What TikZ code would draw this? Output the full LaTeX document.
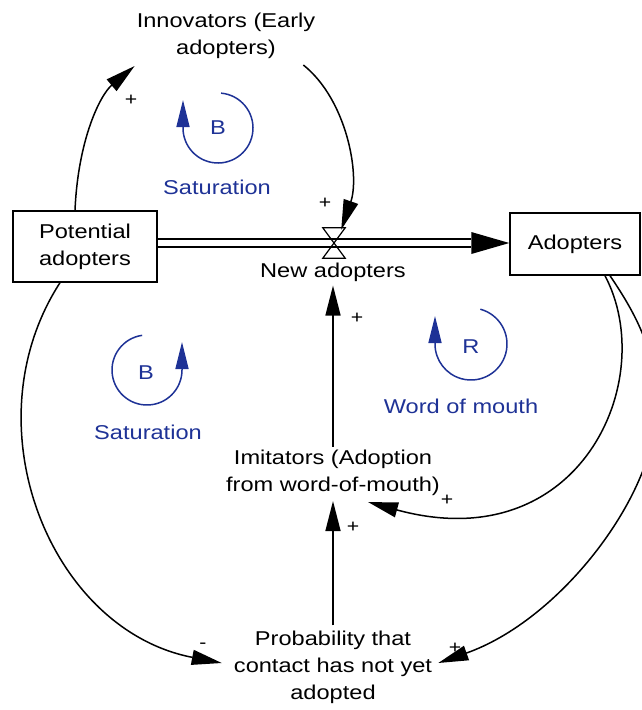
\documentclass[tikz,border=0pt]{standalone}
\usepackage{fontspec}
\setmainfont{Liberation Sans}[FakeStretch=1.18]
\usetikzlibrary{arrows.meta,calc}
\definecolor{loopblue}{RGB}{30,50,150}
\begin{document}
\begin{tikzpicture}[x=1pt,y=-1pt,
  every node/.style={font=\fontsize{20}{27}\selectfont, align=center, inner sep=0pt},
  stock/.style={draw, line width=1.4pt},
  link/.style={line width=1.5pt, -{Triangle[length=30pt,width=15pt]}},
  pipe/.style={line width=1.4pt},
  sign/.style={font=\fontsize{18}{18}\selectfont},
  loopline/.style={draw=loopblue, line width=1.5pt, -{Triangle[length=27pt,width=13pt]}},
  looptxt/.style={text=loopblue}
]
\useasboundingbox (0,0) rectangle (642,710);

% stocks, flow and auxiliaries
\node[stock, minimum width=144pt, minimum height=71pt] (pot) at (85,246.5) {Potential\\adopters};
\node[stock, minimum width=130pt, minimum height=62pt] (adopt) at (575,244) {Adopters};
\node[minimum width=22pt, minimum height=30pt] (valve) at (334,243) {};
\node (newad) at (333,272) {New adopters};
\node (innov) at (226,36) {Innovators (Early\\adopters)};
\node (imit) at (333,473) {Imitators (Adoption\\from word-of-mouth)};
\node (prob) at (333,667) {Probability that\\contact has not yet\\adopted};

% flow pipe with valve
\draw[pipe] ($(pot.east |- valve)+(0,-4)$) -- ($(adopt.west |- valve)+(-38,-4)$);
\draw[pipe] ($(pot.east |- valve)+(0,4)$) -- ($(adopt.west |- valve)+(-38,4)$);
\fill ($(adopt.west |- valve)+(-38,-11)$) -- (adopt.west |- valve) -- ($(adopt.west |- valve)+(-38,11)$) -- cycle;
\draw[line width=1.2pt, fill=white] (valve.north west) -- (valve.north east) -- (valve.south west) -- (valve.south east) -- cycle;
\draw[pipe] ($(valve.west)+(0,-4)$) -- ($(valve.east)+(0,-4)$);
\draw[pipe] ($(valve.west)+(0,4)$) -- ($(valve.east)+(0,4)$);

% causal links
\draw[link] ([shift={(-10,0)}]pot.north) .. controls (78,140) and (100,95) .. ([shift={(-2,7)}]innov.south west);
\draw[link] ([shift={(-12,6)}]innov.south east) .. controls (347,100) and (360,175) .. ([shift={(-4,2)}]valve.north east);
\draw[link] ([shift={(0,-3)}]imit.north) -- ([shift={(0,4)}]newad.south);
\draw[link] ([shift={(0,-5)}]prob.north) -- ([shift={(0,5)}]imit.south);
\draw[link] ([shift={(-25,0)}]pot.south) .. controls (-32,425) and (50,630) .. ([shift={(-12,-4)}]prob.west);
\draw[link] ([shift={(30,0)}]adopt.south) .. controls (660,380) and (580,560) .. ([shift={(35,6)}]imit.south);
\draw[link] ([shift={(35,0)}]adopt.south) .. controls (640,320) and (660,360) .. (655,420)
  .. controls (650,500) and (560,620) .. ([shift={(6,-4)}]prob.east);

% polarities
\node[sign] (s1) at (131,100) {+};
\node[sign] (s2) at (325,203) {+};
\node[sign] (s3) at (357,318) {+};
\node[sign] (s4) at (353,527) {+};
\node[sign] (s5) at (455,648) {+};
\node[sign] (s6) at (203,646) {-};
\node[sign] (s7) at (447,500) {+};

% loop markers
\draw[loopline] (218,128) ++(-85:35) arc[start angle=-85, end angle=180, radius=35] -- ++(0,-28);
\node[looptxt] (b1) at (218,128) {B};
\node[looptxt] (sat1) at (217,187) {Saturation};

\draw[loopline] (147,370) ++(262:35) arc[start angle=262, end angle=0, radius=35] -- ++(0,-28);
\node[looptxt] (b2) at (146,373) {B};
\node[looptxt] (sat2) at (148,432) {Saturation};

\draw[loopline] (471,344) ++(-75:36) arc[start angle=-75, end angle=180, radius=36] -- ++(0,-28);
\node[looptxt] (r1) at (471,347) {R};
\node[looptxt] (wom) at (461,406) {Word of mouth};
\end{tikzpicture}
\end{document}
